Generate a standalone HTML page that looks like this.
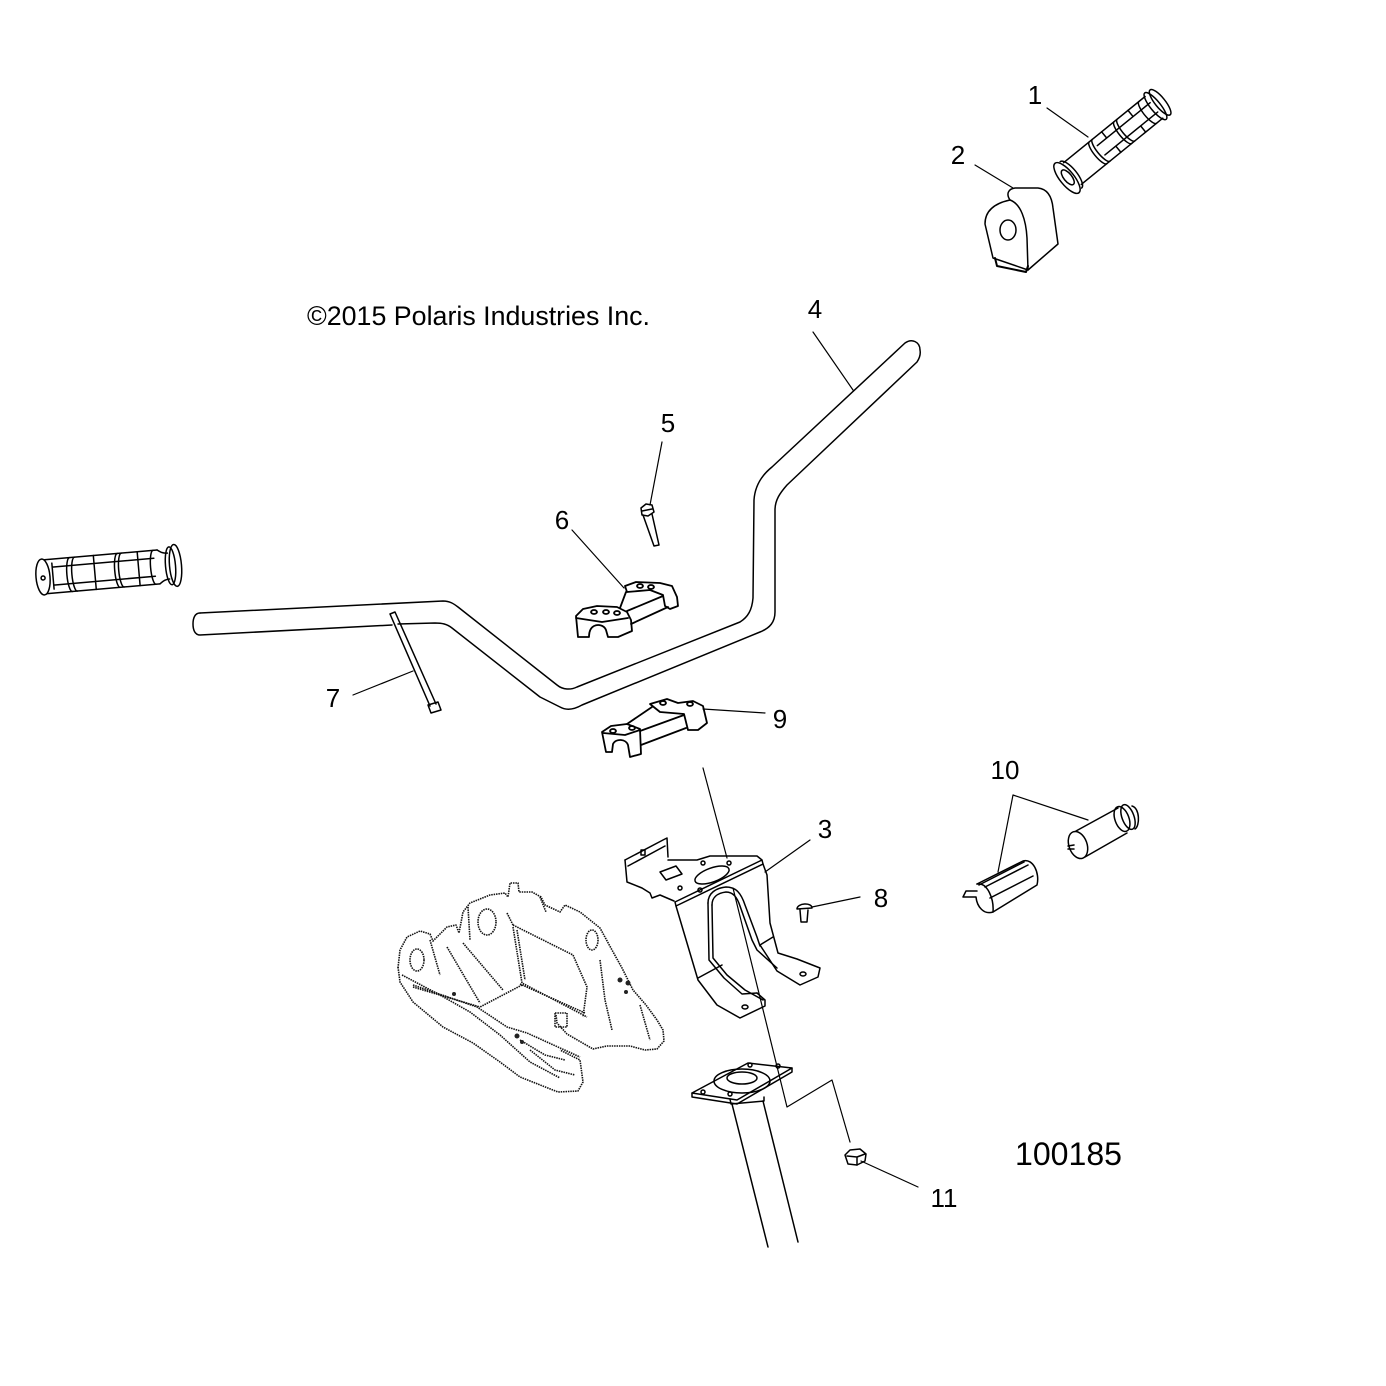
<!DOCTYPE html>
<html><head><meta charset="utf-8"><style>
html,body{margin:0;padding:0;background:#fff;}
svg{display:block;}
text{font-family:"Liberation Sans",Arial,sans-serif;fill:#000;}
</style></head><body>
<svg width="1386" height="1386" viewBox="0 0 1386 1386" xmlns="http://www.w3.org/2000/svg">
<rect width="1386" height="1386" fill="#fff"/>
<g fill="none" stroke="#000" stroke-width="1.5" stroke-linejoin="round" stroke-linecap="round">

<!-- Grip 1 -->
<g transform="translate(1067,178) rotate(-39.1)">
  <ellipse cx="0" cy="0" rx="7" ry="19"/>
  <ellipse cx="1" cy="0" rx="4" ry="9"/>
  <path d="M5,-17 A6,17 0 0 1 5,17"/>
  <line x1="7" y1="-14" x2="112" y2="-14"/>
  <line x1="7" y1="14" x2="112" y2="14"/>
  <path d="M40,-14 A4,14 0 0 0 40,14 M44,-14 A4,14 0 0 0 44,14 M72,-14 A4,14 0 0 0 72,14 M76,-14 A4,14 0 0 0 76,14 M104,-14 A4,14 0 0 0 104,14"/>
  <path d="M44,-6 L112,-6 M44,6 L112,6 M56,-14 L56,-6 M58,6 L58,14 M90,-14 L90,-6 M90,6 L90,14"/>
  <ellipse cx="114" cy="0" rx="5" ry="17"/>
  <ellipse cx="120" cy="0" rx="5" ry="16"/>
</g>

<!-- Left grip -->
<g transform="translate(43,577) rotate(-5)">
  <ellipse cx="0" cy="0" rx="7" ry="18"/>
  <circle cx="0" cy="1" r="2"/>
  <line x1="3" y1="-17" x2="116" y2="-17"/>
  <line x1="3" y1="17" x2="116" y2="17"/>
  <path d="M116,-17 C120,-14 122,-13 126,-13 M116,17 C120,14 122,13 126,13"/>
  <ellipse cx="128" cy="0" rx="5" ry="19"/>
  <ellipse cx="133" cy="0" rx="6" ry="21"/>
  <path d="M28,-17 A4,17 0 0 0 28,17 M33,-17 A4,17 0 0 0 33,17 M76,-17 A4,17 0 0 0 76,17 M80,-17 A4,17 0 0 0 80,17 M112,-17 A4,17 0 0 0 112,17"/>
  <path d="M10,-9 L112,-9 M10,9 L112,9 M10,-13 L10,13 M52,-17 L52,17 M96,-17 L96,17"/>
</g>

<!-- Part 2 block -->
<path d="M985,224 C985,210 996,203 1010,200 C1006,194 1008,189 1015,188 L1038,188 C1048,189 1052,198 1053,208 L1058,244 L1028,270 L993,258 Z"/>
<path d="M1010,200 C1021,204 1026,220 1027,238 L1028,270"/>
<ellipse cx="1008" cy="230" rx="8" ry="10"/>
<path d="M995,258 L997,266 L1026,272 L1028,266" stroke-width="2"/>

<!-- Handlebar 4 -->
<path d="M200,613 L443,601 C450,601 454,604 458,607 L557,685 C563,690 571,690 577,687 L740,622 C748,617 752,610 753,598 L754,500 C755,485 762,475 772,467 L905,343 C912,338 920,342 920,350 C921,355 919,359 917,362 L787,485 C780,493 775,500 775,510 L775,612 C775,622 770,628 760,632 L582,705 C575,709 567,711 560,707 L540,697 L452,628 C447,624 442,623 435,623 L398,624"/>
<path d="M392,625 L200,635 C195,635 193,630 193,624 C193,618 195,613 200,613"/>

<!-- Rod 7 -->
<path d="M390,614 L430,706 M395,612 L436,704 M390,614 L395,612"/>
<path d="M428,705 L438,702 L441,710 L431,713 Z"/>

<!-- Bolt 5 -->
<path d="M641,508 L646,504 L652,505 L654,512 L648,516 L642,515 Z"/>
<path d="M642,511 L652,509"/>
<path d="M643,515 L654,546 L659,545 L652,514"/>

<!-- Clamp 6 -->
<g stroke-width="1.8">
<path d="M576,616 L583,609 L597,606 L617,607 L627,612 L631,620 L632,631 L618,637 L608,637 L606,630 C604,625 598,624 594,626 C590,628 589,632 589,637 L578,637 Z"/>
<path d="M576,618 L602,622 L628,618"/>
<path d="M625,586 L636,582 L660,583 L672,586 L677,597 L678,606 L670,609 L665,606 L663,595 L650,590 L627,592 Z"/>
<path d="M627,611 L663,596 M631,624 L668,607 M620,608 L626,592"/>
<ellipse cx="594" cy="612" rx="3" ry="2"/><ellipse cx="606" cy="612" rx="3" ry="2"/><ellipse cx="617" cy="613" rx="3" ry="2"/>
<ellipse cx="640" cy="586" rx="3" ry="2"/><ellipse cx="651" cy="587" rx="3" ry="2"/>
</g>

<!-- Clamp 9 -->
<g stroke-width="1.8">
<path d="M602,732 L611,726 L627,724 L640,729 L641,754 L630,757 L628,745 C626,739 616,738 613,744 L612,752 L606,752 Z"/>
<path d="M603,733 L625,735 L640,730"/>
<path d="M650,704 L667,699 L678,703 L693,701 L703,706 L707,723 L698,730 L688,730 L684,714 L660,712 Z"/>
<path d="M627,724 L652,707 M640,731 L684,715 M641,745 L686,728"/>
<ellipse cx="613" cy="731" rx="3" ry="2"/><ellipse cx="632" cy="728" rx="3" ry="2"/>
<ellipse cx="663" cy="703" rx="3" ry="2"/><ellipse cx="690" cy="704" rx="3" ry="2"/>
</g>

<!-- Bracket 3 -->
<path d="M625,860 L627,882 L642,888 L650,893 L652,898 L660,895 L667,898 L674,901"/>
<path d="M625,860 L663,840 L667,838 L668,857 M628,866 L665,846"/>
<rect x="641" y="850" width="4" height="5"/>
<path d="M668,860 L697,860 L710,856 L757,856 L762,860 L675,902 L676,906 L763,864 L762,860"/>
<ellipse cx="712" cy="875" rx="18" ry="7" transform="rotate(-20 712 875)"/>
<path d="M660,872 L676,866 L682,874 L666,880 Z"/>
<circle cx="703" cy="863" r="2"/><circle cx="729" cy="863" r="2"/><circle cx="680" cy="888" r="2"/><circle cx="700" cy="890" r="2"/>
<path d="M676,906 L698,980 L717,1005 L740,1018 L765,1006 L765,1000 L757,993"/>
<path d="M763,864 L767,875 L770,923 L778,953 L797,959 L820,968 L818,977 L800,985 L777,971 L760,945"/>
<path d="M708,903 C708,893 716,888 726,887 C736,887 741,893 745,905 L757,937 L760,946"/>
<path d="M708,903 L709,960 L724,978 L742,994 L757,993"/>
<path d="M712,905 C712,897 718,893 726,892 C733,892 737,897 740,906 L752,940 L757,950 L777,968"/>
<path d="M712,905 L713,958 L727,975 L745,990 L763,1000"/>
<path d="M698,978 L722,965 M760,945 L773,937"/>
<ellipse cx="745" cy="1007" rx="3" ry="2"/><ellipse cx="803" cy="974" rx="3" ry="2"/>

<!-- Screw 8 -->
<path d="M797,909 C797,903 812,902 812,908 Z"/>
<path d="M800,910 L801,922 L807,922 L808,910"/>

<!-- Flange & tube -->
<path d="M692,1093 L748,1063 L792,1068 L737,1100 Z"/>
<path d="M692,1093 L692,1097 L737,1104 L792,1072 L792,1068"/>
<ellipse cx="742" cy="1081" rx="28" ry="12"/>
<ellipse cx="742" cy="1078" rx="15" ry="6"/>
<circle cx="703" cy="1092" r="2"/><circle cx="750" cy="1065" r="2"/><circle cx="778" cy="1066" r="2"/><circle cx="730" cy="1094" r="2"/>
<path d="M730,1099 L731,1104 L764,1101 L764,1097"/>
<line x1="732" y1="1104" x2="768" y2="1247"/>
<line x1="763" y1="1101" x2="798" y2="1242"/>

<!-- Nut 11 -->
<path d="M845,1155 L850,1150 L860,1149 L866,1154 L865,1161 L857,1165 L848,1164 Z"/>
<path d="M847,1156 L857,1157 L865,1154 M857,1157 L857,1165"/>

<!-- Part 10b -->
<ellipse cx="1078" cy="845" rx="9" ry="14" transform="rotate(-20 1078 845)"/>
<path d="M1076,831 L1118,808 M1085,857 L1127,833"/>
<path d="M1068,846 L1074,845 M1068,849 L1074,849"/>
<ellipse cx="1122" cy="819" rx="7" ry="13" transform="rotate(-20 1122 819)"/>
<ellipse cx="1128" cy="817" rx="6" ry="13" transform="rotate(-20 1128 817)"/>
<path d="M1132,806 C1140,808 1140,826 1135,829"/>

<!-- Part 10a -->
<path d="M977,884 L1023,861 C1033,858 1040,873 1037,885 L993,912 C984,915 977,907 976,897 L963,897 L966,891 L977,891"/>
<path d="M977,884 C988,882 994,900 993,912"/>
<path d="M985,887 L1028,865 M990,898 L1033,876 M979,885 L1024,862"/>

<!-- Leaders -->
<g stroke-width="1.2">
<line x1="1047" y1="108" x2="1088" y2="137"/>
<line x1="975" y1="165" x2="1013" y2="188"/>
<line x1="813" y1="332" x2="853" y2="390"/>
<line x1="662" y1="442" x2="650" y2="505"/>
<line x1="572" y1="530" x2="624" y2="588"/>
<line x1="353" y1="695" x2="413" y2="671"/>
<line x1="765" y1="713" x2="703" y2="709"/>
<line x1="810" y1="840" x2="765" y2="872"/>
<line x1="860" y1="897" x2="812" y2="907"/>
<path d="M998,872 L1013,795 L1088,820"/>
<line x1="918" y1="1187" x2="861" y2="1161"/>
<line x1="703" y1="768" x2="727" y2="858"/>
<path d="M733,888 L787,1107 L832,1080 L850,1142"/>
</g>
</g>

<!-- Dotted housing -->
<g fill="none" stroke="#111" stroke-width="1.6" stroke-dasharray="1.5 0.9" stroke-linejoin="round">
<path d="M398,968 L400,950 L407,937 L420,931 L430,934 L433,941 L447,927 L456,925 L459,933 L463,912 L470,903 L490,895 L505,893 L508,897 L510,883 L518,883 L519,892 L532,892 L541,897 L545,905 L560,912 L565,905 L580,912 L600,928 L612,950 L622,968 L633,990 L646,1005 L657,1020 L663,1030 L664,1041 L657,1049 L645,1050 L630,1046 L607,1046 L593,1049 L567,1034 L557,1023 L556,1015"/>
<path d="M398,967 L400,982 L413,1002 L443,1027 L473,1043 L500,1062 L520,1077 L558,1092 L578,1091 L583,1082 L580,1060 L560,1050"/>
<path d="M413,985 L477,1007 L507,1027 L527,1033 L580,1057"/>
<path d="M402,975 L440,995 L470,1012 L500,1035 L530,1062 L560,1078"/>
<path d="M513,925 L573,955 L587,987 L583,1017 M513,927 L522,983 L587,1017 M522,985 L480,1007 M413,987 L480,1007"/>
<path d="M517,930 L525,980 M520,984 L585,1013"/>
<path d="M447,947 L480,1003 M463,943 L503,990 M507,913 L513,925 M468,907 L470,940 M540,897 L546,912"/>
<path d="M555,1013 L567,1013 L567,1027 L555,1027 Z M520,1040 L545,1055 L565,1060 M530,1050 L555,1070 L575,1075"/>
<ellipse cx="417" cy="960" rx="7" ry="11"/>
<ellipse cx="487" cy="922" rx="9" ry="13"/>
<ellipse cx="592" cy="940" rx="6" ry="10"/>
<path d="M600,960 L605,1000 L612,1030 M640,1005 L650,1040 M430,940 L440,975"/>
</g>
<g fill="#222">
<circle cx="620" cy="980" r="2.5"/><circle cx="628" cy="983" r="2.5"/><circle cx="626" cy="992" r="2"/>
<circle cx="517" cy="1036" r="2.5"/><circle cx="522" cy="1042" r="2"/>
<circle cx="454" cy="994" r="2"/>
</g>

<!-- Text -->
<text x="307" y="325" font-size="27" textLength="343" lengthAdjust="spacingAndGlyphs">©2015 Polaris Industries Inc.</text>
<g font-size="26" text-anchor="middle">
<text x="1035" y="104">1</text>
<text x="958" y="164">2</text>
<text x="815" y="318">4</text>
<text x="668" y="432">5</text>
<text x="562" y="529">6</text>
<text x="333" y="707">7</text>
<text x="780" y="728">9</text>
<text x="1005" y="779">10</text>
<text x="825" y="838">3</text>
<text x="881" y="907">8</text>
<text x="944" y="1207">11</text>
</g>
<text x="1015" y="1165" font-size="32" textLength="107" lengthAdjust="spacingAndGlyphs">100185</text>
</svg>
</body></html>
